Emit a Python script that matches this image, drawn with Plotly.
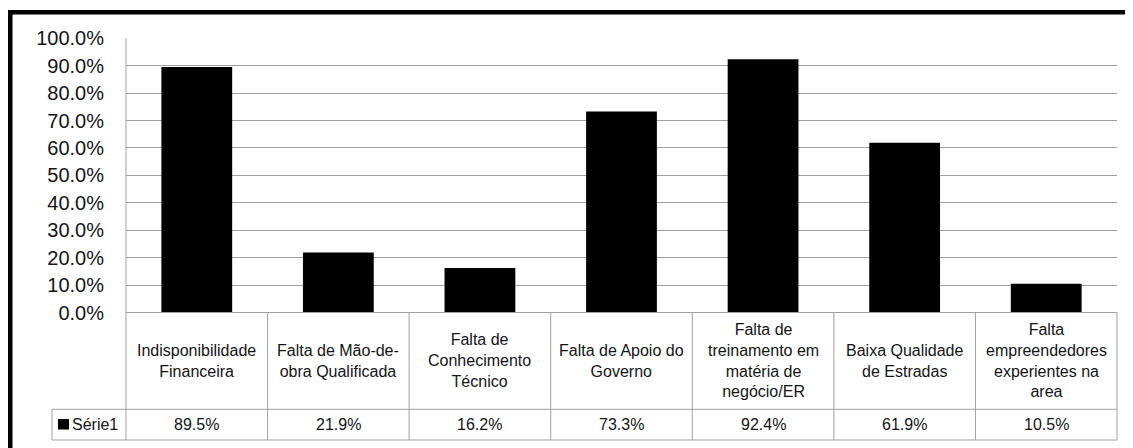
import plotly.graph_objects as go

categories = [
    "Indisponibilidade<br>Financeira",
    "Falta de Mão-de-<br>obra Qualificada",
    "Falta de<br>Conhecimento<br>Técnico",
    "Falta de Apoio do<br>Governo",
    "Falta de<br>treinamento em<br>matéria de<br>negócio/ER",
    "Baixa Qualidade<br>de Estradas",
    "Falta<br>empreendedores<br>experientes na<br>area",
]
values = [0.895, 0.219, 0.162, 0.733, 0.924, 0.619, 0.105]
value_labels = ["89.5%", "21.9%", "16.2%", "73.3%", "92.4%", "61.9%", "10.5%"]
series_name = "Série1"
y_ticks = [0, 0.1, 0.2, 0.3, 0.4, 0.5, 0.6, 0.7, 0.8, 0.9, 1.0]

W, H = 1133, 448
PAGE_OFF = 8  # default page body margin
FONT = "Arial, Liberation Sans, sans-serif"
TXT = "#141414"
GRID = "#a0a0a0"


def px_x(p):
    return (p - PAGE_OFF) / W


def px_y(p):
    return 1 - (p - PAGE_OFF) / H


plot_l, plot_r, plot_t, plot_b = 126, 1117, 38.3, 312.5
row1_b, row2_b = 409.3, 440.0
leg_l = 52

keys = [f"c{i}" for i in range(len(categories))]

fig = go.Figure()
fig.add_trace(go.Bar(
    x=keys, y=values, name=series_name,
    marker=dict(color="black", line=dict(width=0)),
    width=0.5, showlegend=False,
))

n = len(categories)
shapes = []
shapes.append(dict(type="rect", xref="paper", yref="paper",
                   x0=0, x1=px_x(12.5), y0=0, y1=px_y(10),
                   fillcolor="black", line=dict(width=0), layer="above"))
shapes.append(dict(type="rect", xref="paper", yref="paper",
                   x0=0, x1=1, y0=px_y(14.5), y1=px_y(10),
                   fillcolor="black", line=dict(width=0), layer="above"))

line_style = dict(color=GRID, width=1)
shapes.append(dict(type="line", xref="paper", yref="paper",
                   x0=px_x(plot_l), x1=px_x(plot_l), y0=px_y(plot_t), y1=px_y(row2_b), line=line_style))
shapes.append(dict(type="line", xref="paper", yref="paper",
                   x0=px_x(plot_l), x1=px_x(plot_r), y0=px_y(plot_b), y1=px_y(plot_b), line=line_style))
for yy in (row1_b, row2_b):
    shapes.append(dict(type="line", xref="paper", yref="paper",
                       x0=px_x(leg_l), x1=px_x(plot_r), y0=px_y(yy), y1=px_y(yy), line=line_style))
shapes.append(dict(type="line", xref="paper", yref="paper",
                   x0=px_x(leg_l), x1=px_x(leg_l), y0=px_y(row1_b), y1=px_y(row2_b), line=line_style))
colw = (plot_r - plot_l) / n
for i in range(1, n + 1):
    xx = plot_l + i * colw
    shapes.append(dict(type="line", xref="paper", yref="paper",
                       x0=px_x(xx), x1=px_x(xx), y0=px_y(plot_b), y1=px_y(row2_b), line=line_style))
shapes.append(dict(type="rect", xref="paper", yref="paper",
                   x0=px_x(58), x1=px_x(69), y0=px_y(429.5), y1=px_y(419),
                   fillcolor="black", line=dict(width=0)))

annotations = []
hdr_mid = (plot_b + row1_b) / 2
val_mid = (row1_b + row2_b) / 2
for k, cat, lab in zip(keys, categories, value_labels):
    annotations.append(dict(x=k, xref="x", y=px_y(hdr_mid), yref="paper", text=cat,
                            showarrow=False, xanchor="center", yanchor="middle",
                            font=dict(family=FONT, size=16, color=TXT), align="center"))
    annotations.append(dict(x=k, xref="x", y=px_y(val_mid), yref="paper", text=lab,
                            showarrow=False, xanchor="center", yanchor="middle",
                            font=dict(family=FONT, size=16, color=TXT)))
annotations.append(dict(x=px_x(69.5), xref="paper", y=px_y(val_mid), yref="paper", text=series_name,
                        showarrow=False, xanchor="left", yanchor="middle",
                        font=dict(family=FONT, size=16, color=TXT)))

fig.update_layout(
    template="none",
    width=W, height=H,
    margin=dict(l=0, r=0, t=0, b=0, pad=0, autoexpand=False),
    paper_bgcolor="white", plot_bgcolor="white",
    showlegend=False,
    bargap=0.5,
    shapes=shapes, annotations=annotations,
    xaxis=dict(domain=[px_x(plot_l), px_x(plot_r)], showticklabels=False, showgrid=False,
               zeroline=False, showline=False, range=[-0.5, n - 0.5], fixedrange=True,
               automargin=False, ticks=""),
    yaxis=dict(domain=[px_y(plot_b), px_y(plot_t)], range=[0, 1], tickvals=y_ticks,
               tickformat=".1%", showgrid=True, gridcolor=GRID, gridwidth=1,
               zeroline=False, showline=False, ticks="outside", ticklen=17,
               tickcolor="rgba(0,0,0,0)", automargin=False,
               tickfont=dict(family=FONT, size=20, color=TXT)),
)

fig.write_html("out.html")
